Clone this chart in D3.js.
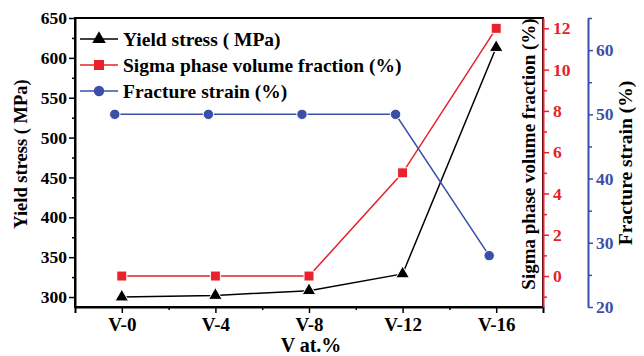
<!DOCTYPE html>
<head>
<meta charset="utf-8">
<style>
body { margin: 0; background: #fff; }
svg { display: block; }
text { font-family: "Liberation Serif", "Times New Roman", serif; font-weight: bold; }
.axis .domain { stroke-width: 2px; }
.axis .tick line { stroke-width: 1.5px; }
.axis text { font-size: 17.5px; font-family: "Liberation Serif", serif; font-weight: bold; }
</style>
</head>
<body>
<script src="https://cdn.jsdelivr.net/npm/d3@7"></script>
<script>
// data
var categories = ["V-0", "V-4", "V-8", "V-12", "V-16"];
var yieldStress = [300, 302, 308, 329, 613];
var sigmaFraction = [0, 0, 0, 5, 12];
var fractureStrain = [50, 50, 50, 50, 28];

var leftTicks = [300, 350, 400, 450, 500, 550, 600, 650];
var redTicks = [0, 2, 4, 6, 8, 10, 12];
var blueTicks = [20, 30, 40, 50, 60];

var black = "#000", red = "#e8212a", blue = "#3b4fa9";

var width = 644, height = 356;
var plotL = 75, plotR = 543, plotT = 18, plotB = 307;

var svg = d3.select("body").append("svg")
    .attr("width", width)
    .attr("height", height);

// scales
var x = d3.scaleLinear().domain([-0.5, 4.5]).range([plotL, plotR]);
var yL = d3.scaleLinear().domain([287.5, 650]).range([plotB, plotT]);
var yR = d3.scaleLinear().domain([-1.5, 12.5]).range([plotB, plotT]);
var yB = d3.scaleLinear().domain([20, 65]).range([plotB, plotT]);
var blueShift = -0.075;  // blue markers sit a bit left of the ticks

// frame
svg.append("rect")
    .attr("x", plotL).attr("y", plotT)
    .attr("width", plotR - plotL).attr("height", plotB - plotT)
    .style("fill", "none").style("stroke", "#000").style("stroke-width", 2);

// x axis
var gx = svg.append("g").attr("class", "axis")
    .attr("transform", "translate(0," + plotB + ")")
    .call(d3.axisBottom(x).tickValues(d3.range(5)).tickSize(6).tickPadding(5)
      .tickFormat(function(d) { return categories[d]; }));
gx.selectAll(".tick text").style("font-size", "19px");
svg.append("g").attr("class", "axis")
    .attr("transform", "translate(0," + plotB + ")")
    .call(d3.axisBottom(x).tickValues([0.5, 1.5, 2.5, 3.5]).tickSize(3).tickFormat(""))
    .select(".domain").remove();

// left axis
svg.append("g").attr("class", "axis")
    .attr("transform", "translate(" + plotL + ",0)")
    .call(d3.axisLeft(yL).tickValues(leftTicks).tickSize(6).tickPadding(2).tickSizeOuter(0));
svg.append("g").attr("class", "axis")
    .attr("transform", "translate(" + plotL + ",0)")
    .call(d3.axisLeft(yL).tickValues(d3.range(325, 650, 50)).tickSize(3).tickFormat(""))
    .select(".domain").remove();

// red axis
function colorAxis(g, c) {
  g.selectAll(".domain, line").style("stroke", c);
  g.selectAll("text").style("fill", c);
}
var gr = svg.append("g").attr("class", "axis")
    .attr("transform", "translate(" + plotR + ",0)")
    .call(d3.axisRight(yR).tickValues(redTicks).tickSize(6).tickPadding(4).tickSizeOuter(0));
colorAxis(gr, red);
var gr2 = svg.append("g").attr("class", "axis")
    .attr("transform", "translate(" + plotR + ",0)")
    .call(d3.axisRight(yR).tickValues(d3.range(-1, 12, 2)).tickSize(4).tickFormat(""));
gr2.select(".domain").remove();
colorAxis(gr2, red);

// blue axis
var bx = 588;
var gb = svg.append("g").attr("class", "axis")
    .attr("transform", "translate(" + bx + ",0)")
    .call(d3.axisRight(yB).tickValues(blueTicks).tickSize(5).tickPadding(3).tickSizeOuter(0));
colorAxis(gb, blue);
var gb2 = svg.append("g").attr("class", "axis")
    .attr("transform", "translate(" + bx + ",0)")
    .call(d3.axisRight(yB).tickValues(d3.range(25, 70, 10)).tickSize(4).tickFormat(""));
gb2.select(".domain").remove();
colorAxis(gb2, blue);

// axis titles
svg.append("text")
    .attr("transform", "translate(21," + 154 + ") rotate(-90)")
    .attr("dy", "0.35em")
    .style("text-anchor", "middle").style("font-size", "18.5px")
    .text("Yield stress ( MPa)");
svg.append("text")
    .attr("transform", "translate(528," + 154 + ") rotate(-90)")
    .attr("dy", "0.35em")
    .style("text-anchor", "middle").style("font-size", "19px")
    .text("Sigma phase volume fraction (%)");
svg.append("text")
    .attr("transform", "translate(625," + 163 + ") rotate(-90)")
    .attr("dy", "0.35em")
    .style("text-anchor", "middle").style("font-size", "19.5px")
    .text("Fracture strain (%)");
svg.append("text")
    .attr("x", (plotL + plotR) / 2 + 2).attr("y", 352)
    .style("text-anchor", "middle").style("font-size", "20px")
    .text("V at.%");

// series
var idx = d3.range(categories.length);
var series = [
  { name: "Yield stress ( MPa)", values: yieldStress, y: yL, color: black, shape: d3.symbolTriangle, size: 80, shift: 0 },
  { name: "Sigma phase volume fraction (%)", values: sigmaFraction, y: yR, color: red, shape: d3.symbolSquare, size: 100, shift: 0 },
  { name: "Fracture strain (%)", values: fractureStrain, y: yB, color: blue, shape: d3.symbolCircle, size: 85, shift: blueShift }
];

series.forEach(function(s) {
  var line = d3.line()
    .x(function(i) { return x(i + s.shift); })
    .y(function(i) { return s.y(s.values[i]); });
  svg.append("path")
      .attr("d", line(idx))
      .style("fill", "none")
      .style("stroke", s.color)
      .style("stroke-width", 1.5);
  svg.selectAll(null)
    .data(idx)
    .enter().append("path")
      .attr("transform", function(i) {
        return "translate(" + x(i + s.shift) + "," + s.y(s.values[i]) + ")";
      })
      .attr("d", d3.symbol().type(s.shape).size(s.size))
      .style("fill", s.color)
      .style("stroke", "#fff")
      .style("stroke-width", 1);
});

// legend
var legend = svg.append("g");
series.forEach(function(s, i) {
  var ly = 39 + i * 26;
  legend.append("line")
      .attr("x1", 80).attr("x2", 118).attr("y1", ly).attr("y2", ly)
      .style("stroke", s.color).style("stroke-width", 1.5);
  legend.append("path")
      .attr("transform", "translate(99," + ly + ")")
      .attr("d", d3.symbol().type(s.shape).size(s.size))
      .style("fill", s.color);
  legend.append("text")
      .attr("x", 123).attr("y", ly)
      .attr("dy", "0.35em")
      .style("font-size", "19.5px")
      .text(s.name);
});
</script>
</body>
